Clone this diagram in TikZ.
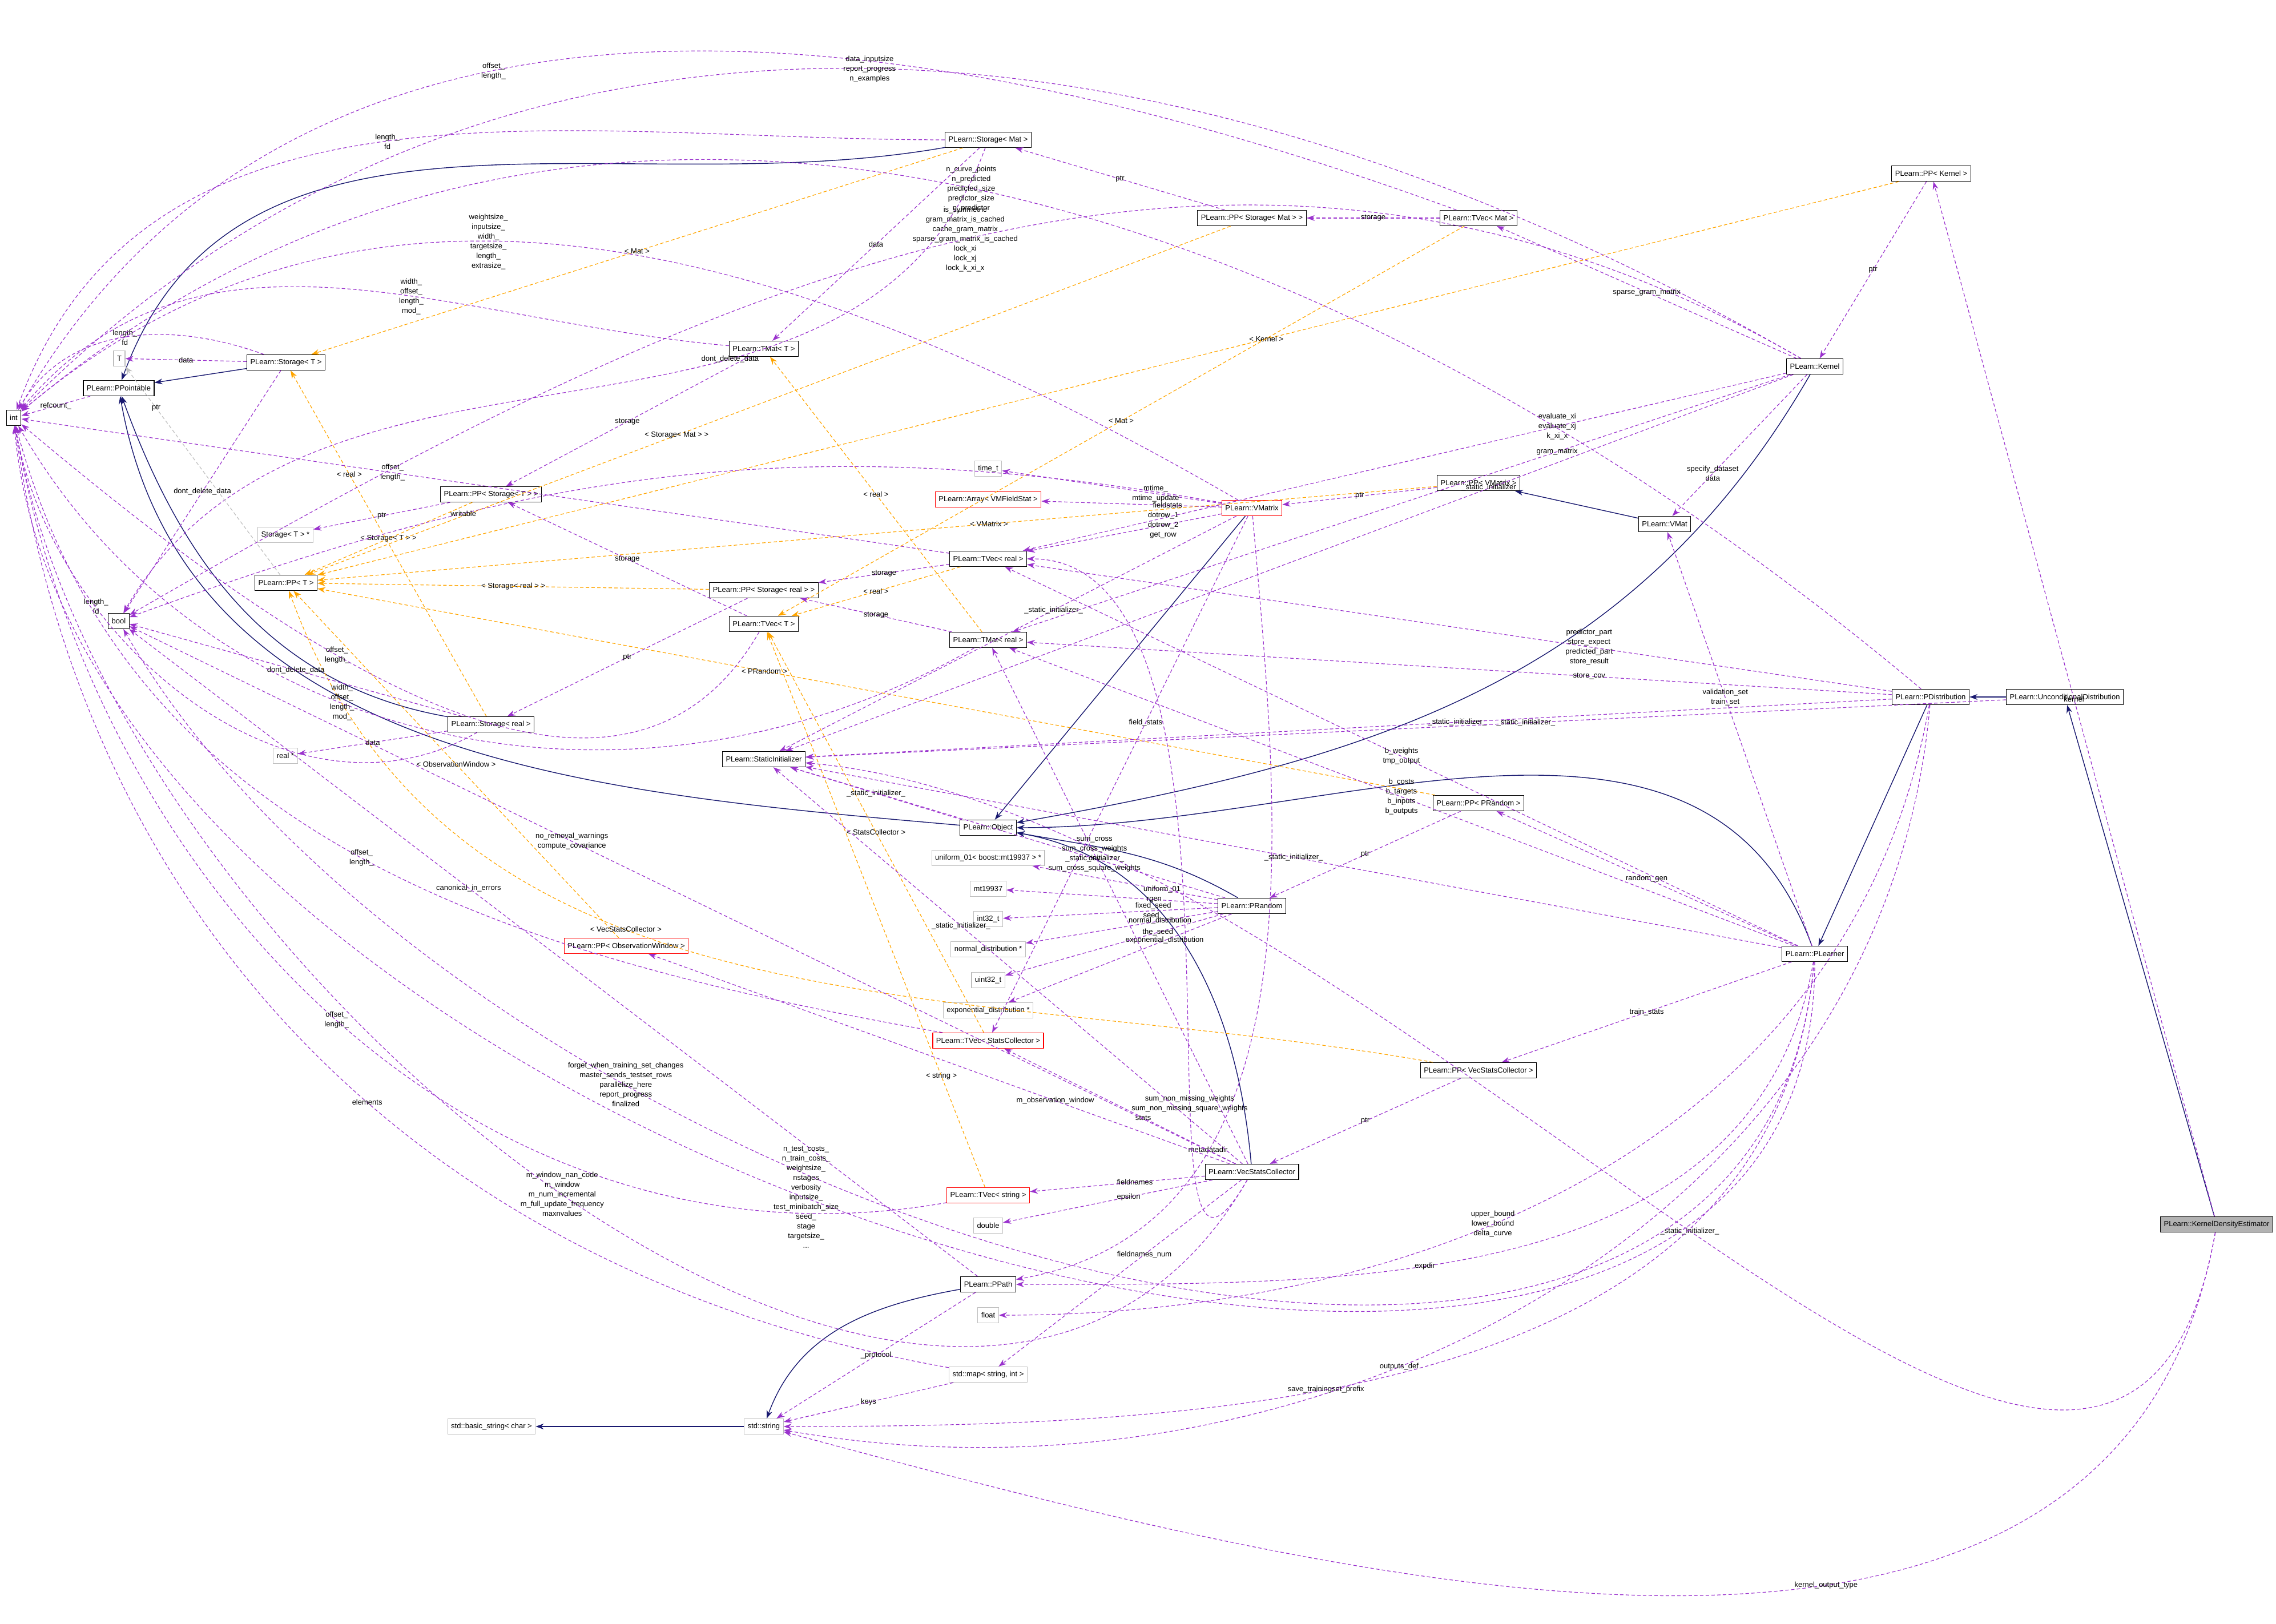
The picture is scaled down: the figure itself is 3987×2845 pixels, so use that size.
\documentclass[tikz,border=0pt]{standalone}
\usepackage{fontspec}
\setmainfont{Liberation Sans}
\usetikzlibrary{arrows.meta}
\definecolor{memb}{HTML}{9A32CD}
\definecolor{inh}{HTML}{191970}
\definecolor{tpl}{HTML}{FFA500}
\tikzset{
  cls/.style={draw=black, line width=0.12pt, fill=white, minimum height=2.7pt, inner xsep=0.6pt, inner ysep=0.3pt, font=\fontsize{1.3}{1.5}\selectfont},
  redcls/.style={cls, draw=red},
  extcls/.style={cls, draw=black!25},
  maincls/.style={cls, fill=black!30},
  member/.style={memb, dash pattern=on 0.6pt off 0.4pt, line width=0.12pt, -{Stealth[length=1.4pt,width=1pt]}},
  inherit/.style={inh, line width=0.14pt, -{Stealth[length=1.4pt,width=1pt]}},
  tmpl/.style={tpl, dash pattern=on 0.6pt off 0.4pt, line width=0.12pt, -{Stealth[length=1.4pt,width=1pt]}},
  lbl/.style={midway, black, align=center, font=\fontsize{1.3}{1.7}\selectfont, inner sep=0.2pt}
}
\begin{document}
\begin{tikzpicture}[x=0.1pt,y=-0.1pt]
   \useasboundingbox (0,0) rectangle (3987,2845);
   % classes, left part
   \node[cls] (int) at (24,732) {int};
   \node[cls] (ppointable) at (208,680) {PLearn::PPointable};
   \node[extcls] (T) at (209,628) {T};
   \node[cls] (storageT) at (501,635) {PLearn::Storage< T >};
   \node[cls] (storagemat) at (1731,245) {PLearn::Storage< Mat >};
   \node[cls] (tmatT) at (1338,611) {PLearn::TMat< T >};
   \node[cls] (ppstorageT) at (860,866) {PLearn::PP< Storage< T > >};
   \node[extcls] (storageTptr) at (500,937) {Storage< T > *};
   \node[cls] (ppT) at (501,1021) {PLearn::PP< T >};
   \node[cls] (bool) at (208,1088) {bool};
   \node[cls] (tvecreal) at (1731,979) {PLearn::TVec< real >};
   \node[cls] (ppstoragereal) at (1338,1034) {PLearn::PP< Storage< real > >};
   \node[cls] (tvecT) at (1338,1093) {PLearn::TVec< T >};
   \node[cls] (tmatreal) at (1731,1121) {PLearn::TMat< real >};
   \node[extcls] (timet) at (1731,821) {time\_t};
   \node[redcls] (arrayvmfs) at (1731,875) {PLearn::Array< VMFieldStat >};
   \node[cls] (storagereal) at (860,1269) {PLearn::Storage< real >};
   \node[extcls] (realptr) at (500,1324) {real *};
   \node[cls] (staticinit) at (1338,1330) {PLearn::StaticInitializer};
   % classes, right part
   \node[cls] (ppkernel) at (3383,304) {PLearn::PP< Kernel >};
   \node[cls] (ppstoragemat) at (2193,382) {PLearn::PP< Storage< Mat > >};
   \node[cls] (tvecmat) at (2590,382) {PLearn::TVec< Mat >};
   \node[cls] (kernel) at (3179,642) {PLearn::Kernel};
   \node[cls] (ppvmatrix) at (2590,846) {PLearn::PP< VMatrix >};
   \node[redcls] (vmatrix) at (2193,890) {PLearn::VMatrix};
   \node[cls] (vmat) at (2916,918) {PLearn::VMat};
   \node[cls] (pdistribution) at (3382,1221) {PLearn::PDistribution};
   \node[cls] (uncond) at (3617,1221) {PLearn::UnconditionalDistribution};
   % classes, lower part
   \node[cls] (object) at (1731,1450) {PLearn::Object};
   \node[extcls] (uniform) at (1731,1503) {uniform\_01< boost::mt19937 > *};
   \node[extcls] (mt) at (1731,1557) {mt19937};
   \node[extcls] (intt) at (1731,1610) {int32\_t};
   \node[extcls] (normdist) at (1731,1663) {normal\_distribution *};
   \node[extcls] (uintt) at (1731,1717) {uint32\_t};
   \node[extcls] (expdist) at (1731,1770) {exponential\_distribution *};
   \node[redcls] (tvecsc) at (1731,1823) {PLearn::TVec< StatsCollector >};
   \node[redcls] (ppobswin) at (1097,1657) {PLearn::PP< ObservationWindow >};
   \node[redcls] (tvecstring) at (1731,2094) {PLearn::TVec< string >};
   \node[extcls] (double) at (1731,2147) {double};
   \node[cls] (ppath) at (1731,2250) {PLearn::PPath};
   \node[extcls] (float) at (1731,2304) {float};
   \node[extcls] (stdmap) at (1731,2408) {std::map< string, int >};
   \node[extcls] (stdstring) at (1338,2499) {std::string};
   \node[extcls] (basicstring) at (861,2499) {std::basic\_string< char >};
   \node[cls] (pprandom) at (2590,1407) {PLearn::PP< PRandom >};
   \node[cls] (prandom) at (2193,1587) {PLearn::PRandom};
   \node[cls] (plearner) at (3179,1671) {PLearn::PLearner};
   \node[cls] (ppvsc) at (2590,1875) {PLearn::PP< VecStatsCollector >};
   \node[cls] (vsc) at (2193,2053) {PLearn::VecStatsCollector};
   \node[maincls] (kde) at (3883,2145) {PLearn::KernelDensityEstimator};

   % inheritance
   \draw[inherit] (storagemat) to[out=190,in=70] (ppointable);
   \draw[inherit] (storageT) -- (ppointable);
   \draw[inherit] (storagereal) to[out=170,in=-70] (ppointable);
   \draw[inherit] (object) to[out=175,in=-80] (ppointable);
   \draw[inherit] (kernel) to[out=-120,in=10] (object);
   \draw[inherit] (vmatrix) -- (object);
   \draw[inherit] (prandom) to[out=150,in=-10] (object);
   \draw[inherit] (vsc) to[out=95,in=-10] (object);
   \draw[inherit] (plearner) to[out=110,in=0] (object);
   \draw[inherit] (ppath) to[out=190,in=70] (stdstring);
   \draw[inherit] (stdstring) -- (basicstring);
   \draw[inherit] (vmat) -- (ppvmatrix);
   \draw[inherit] (pdistribution) -- (plearner);
   \draw[inherit] (uncond) -- (pdistribution);
   \draw[inherit] (kde) -- (uncond);

   % templates
   \draw[tmpl] (storagemat) -- node[lbl] {< Mat >} (storageT);
   \draw[tmpl] (storagereal) -- node[lbl, pos=0.7] {< real >} (storageT);
   \draw[tmpl] (tmatreal) -- node[lbl] {< real >} (tmatT);
   \draw[tmpl] (ppstorageT) -- node[lbl] {< Storage< T > >} (ppT);
   \draw[tmpl] (ppstoragereal) -- node[lbl] {< Storage< real > >} (ppT);
   \draw[tmpl] (ppstoragemat) -- node[lbl, pos=0.6] {< Storage< Mat > >} (ppT);
   \draw[tmpl] (ppvmatrix) -- node[lbl, pos=0.4] {< VMatrix >} (ppT);
   \draw[tmpl] (ppkernel) -- node[lbl, pos=0.4] {< Kernel >} (ppT);
   \draw[tmpl] (pprandom) -- node[lbl, pos=0.6] {< PRandom >} (ppT);
   \draw[tmpl] (ppobswin) -- node[lbl] {< ObservationWindow >} (ppT);
   \draw[tmpl] (ppvsc) to[out=170,in=-70] node[lbl, pos=0.6] {< VecStatsCollector >} (ppT);
   \draw[tmpl] (tvecreal) -- node[lbl] {< real >} (tvecT);
   \draw[tmpl] (tvecmat) -- node[lbl, pos=0.5] {< Mat >} (tvecT);
   \draw[tmpl] (tvecsc) -- node[lbl] {< StatsCollector >} (tvecT);
   \draw[tmpl] (tvecstring) -- node[lbl, pos=0.2] {< string >} (tvecT);

   % members of the storage and array classes
   \draw[member] (ppointable) -- node[lbl] {refcount\_} (int);
   \draw[member] (storageT) -- node[lbl] {data} (T);
   \draw[member] (storageT) to[out=160,in=60] node[lbl] {length\_\\fd} (int);
   \draw[member] (storageT) -- node[lbl] {dont\_delete\_data} (bool);
   \draw[member] (storagemat) to[out=180,in=70] node[lbl] {length\_\\fd} (int);
   \draw[member] (storagemat) -- node[lbl] {data} (tmatT);
   \draw[member] (storagemat) to[out=-110,in=60] node[lbl, pos=0.35] {dont\_delete\_data} (bool);
   \draw[member] (storagereal) -- node[lbl] {data} (realptr);
   \draw[member] (storagereal) -- node[lbl] {dont\_delete\_data} (bool);
   \draw[member] (storagereal) to[out=-150,in=-80] node[lbl, pos=0.7] {length\_\\fd} (int);
   \draw[member] (ppstorageT) -- node[lbl] {ptr} (storageTptr);
   \draw[member] (ppstoragemat) -- node[lbl] {ptr} (storagemat);
   \draw[member] (ppstoragereal) -- node[lbl] {ptr} (storagereal);
   \draw[member, draw=black!25] (ppT) -- node[lbl, pos=0.8] {ptr} (T);
   \draw[member] (tmatT) -- node[lbl] {storage} (ppstorageT);
   \draw[member] (tmatT) to[out=175,in=50] node[lbl, pos=0.4] {width\_\\offset\_\\length\_\\mod\_} (int);
   \draw[member] (tvecT) -- node[lbl] {storage} (ppstorageT);
   \draw[member] (tvecT) to[out=-120,in=-40] node[lbl, pos=0.6] {offset\_\\length\_} (int);
   \draw[member] (tvecreal) -- node[lbl] {storage} (ppstoragereal);
   \draw[member] (tvecreal) -- node[lbl, pos=0.6] {offset\_\\length\_} (int);
   \draw[member] (tmatreal) -- node[lbl] {storage} (ppstoragereal);
   \draw[member] (tmatreal) to[out=-150,in=-60] node[lbl, pos=0.6] {width\_\\offset\_\\length\_\\mod\_} (int);
   \draw[member] (tvecmat) -- node[lbl] {storage} (ppstoragemat);
   \draw[member] (tvecmat) to[out=160,in=60] node[lbl, pos=0.6] {offset\_\\length\_} (int);
   \draw[member] (tvecsc) to[out=170,in=-75] node[lbl, pos=0.5] {offset\_\\length\_} (int);
   \draw[member] (tvecstring) to[out=190,in=-80] node[lbl, pos=0.5] {offset\_\\length\_} (int);
   \draw[member] (stdmap) to[out=170,in=-82] node[lbl, pos=0.45] {elements} (int);
   \draw[member] (stdmap) -- node[lbl] {keys} (stdstring);
   \draw[member] (ppath) -- node[lbl] {\_protocol} (stdstring);
   \draw[member] (ppath) -- node[lbl, pos=0.6] {canonical\_in\_errors} (bool);
   \draw[member] (object) -- node[lbl] {\_static\_initializer\_} (staticinit);

   % members of the kernel and matrix classes
   \draw[member] (ppkernel) -- node[lbl] {ptr} (kernel);
   \draw[member] (kernel) to[out=150,in=45] node[lbl, pos=0.5] {data\_inputsize\\report\_progress\\n\_examples} (int);
   \draw[member] (kernel) to[out=150,in=30] node[lbl, pos=0.5] {is\_symmetric\\gram\_matrix\_is\_cached\\cache\_gram\_matrix\\sparse\_gram\_matrix\_is\_cached\\lock\_xi\\lock\_xj\\lock\_k\_xi\_x} (bool);
   \draw[member] (kernel) -- node[lbl] {sparse\_gram\_matrix} (tvecmat);
   \draw[member] (kernel) -- node[lbl, pos=0.3] {\_static\_initializer\_} (staticinit);
   \draw[member] (kernel) -- node[lbl, pos=0.3] {evaluate\_xi\\evaluate\_xj\\k\_xi\_x} (tvecreal);
   \draw[member] (kernel) -- node[lbl, pos=0.3] {gram\_matrix} (tmatreal);
   \draw[member] (kernel) -- node[lbl, pos=0.7] {specify\_dataset\\data} (vmat);
   \draw[member] (ppvmatrix) -- node[lbl] {ptr} (vmatrix);
   \draw[member] (vmatrix) to[out=150,in=40] node[lbl, pos=0.6] {weightsize\_\\inputsize\_\\width\_\\targetsize\_\\length\_\\extrasize\_} (int);
   \draw[member] (vmatrix) -- node[lbl, pos=0.3] {mtime\_\\mtime\_update} (timet);
   \draw[member] (vmatrix) -- node[lbl, pos=0.3] {fieldstats} (arrayvmfs);
   \draw[member] (vmatrix) -- node[lbl, pos=0.3] {dotrow\_1\\dotrow\_2\\get\_row} (tvecreal);
   \draw[member] (vmatrix) to[out=170,in=20] node[lbl, pos=0.7] {writable} (bool);
   \draw[member] (vmatrix) -- node[lbl, pos=0.4] {\_static\_initializer\_} (staticinit);
   \draw[member] (vmatrix) -- node[lbl, pos=0.4] {field\_stats} (tvecsc);
   \draw[member] (vmatrix) to[out=-85,in=10] node[lbl, pos=0.7] {metadatadir} (ppath);

   % members of the learner classes
   \draw[member] (pdistribution) to[out=140,in=40] node[lbl, pos=0.5] {n\_curve\_points\\n\_predicted\\predicted\_size\\predictor\_size\\n\_predictor} (int);
   \draw[member] (pdistribution) -- node[lbl, pos=0.35] {predictor\_part\\store\_expect\\predicted\_part\\store\_result} (tvecreal);
   \draw[member] (pdistribution) -- node[lbl, pos=0.35] {store\_cov} (tmatreal);
   \draw[member] (pdistribution) -- node[lbl, pos=0.4] {\_static\_initializer\_} (staticinit);
   \draw[member] (pdistribution) to[out=-100,in=0] node[lbl, pos=0.6] {upper\_bound\\lower\_bound\\delta\_curve} (float);
   \draw[member] (pdistribution) to[out=-95,in=-10] node[lbl, pos=0.6] {outputs\_def} (stdstring);
   \draw[member] (uncond) -- node[lbl, pos=0.4] {\_static\_initializer\_} (staticinit);
   \draw[member] (kde) -- node[lbl] {kernel} (ppkernel);
   \draw[member] (kde) to[out=-100,in=-5] node[lbl, pos=0.5] {\_static\_initializer\_} (staticinit);
   \draw[member] (kde) to[out=-100,in=-15] node[lbl, pos=0.4] {kernel\_output\_type} (stdstring);
   \draw[member] (plearner) -- node[lbl, pos=0.6] {validation\_set\\train\_set} (vmat);
   \draw[member] (plearner) -- node[lbl, pos=0.5] {b\_weights\\tmp\_output} (tvecreal);
   \draw[member] (plearner) -- node[lbl, pos=0.5] {b\_costs\\b\_targets\\b\_inputs\\b\_outputs} (tmatreal);
   \draw[member] (plearner) -- node[lbl] {random\_gen} (pprandom);
   \draw[member] (plearner) -- node[lbl] {train\_stats} (ppvsc);
   \draw[member] (plearner) -- node[lbl, pos=0.5] {\_static\_initializer\_} (staticinit);
   \draw[member] (plearner) to[out=-100,in=0] node[lbl, pos=0.6] {expdir} (ppath);
   \draw[member] (plearner) to[out=-95,in=0] node[lbl, pos=0.6] {save\_trainingset\_prefix} (stdstring);
   \draw[member] (plearner) to[out=-95,in=-60] node[lbl, pos=0.7] {forget\_when\_training\_set\_changes\\master\_sends\_testset\_rows\\parallelize\_here\\report\_progress\\finalized} (bool);
   \draw[member] (plearner) to[out=-90,in=-85] node[lbl, pos=0.55] {n\_test\_costs\_\\n\_train\_costs\_\\weightsize\_\\nstages\\verbosity\\inputsize\_\\test\_minibatch\_size\\seed\_\\stage\\targetsize\_\\...} (int);

   % members of the random and statistics classes
   \draw[member] (pprandom) -- node[lbl] {ptr} (prandom);
   \draw[member] (prandom) -- node[lbl, pos=0.3] {uniform\_01} (uniform);
   \draw[member] (prandom) -- node[lbl, pos=0.3] {rgen} (mt);
   \draw[member] (prandom) -- node[lbl, pos=0.3] {fixed\_seed\\seed\_} (intt);
   \draw[member] (prandom) -- node[lbl, pos=0.3] {normal\_distribution} (normdist);
   \draw[member] (prandom) -- node[lbl, pos=0.3] {the\_seed} (uintt);
   \draw[member] (prandom) -- node[lbl, pos=0.3] {exponential\_distribution} (expdist);
   \draw[member] (prandom) -- node[lbl, pos=0.3] {\_static\_initializer\_} (staticinit);
   \draw[member] (ppvsc) -- node[lbl] {ptr} (vsc);
   \draw[member] (vsc) -- node[lbl, pos=0.4] {stats} (tvecsc);
   \draw[member] (vsc) -- node[lbl, pos=0.4] {fieldnames} (tvecstring);
   \draw[member] (vsc) -- node[lbl, pos=0.4] {epsilon} (double);
   \draw[member] (vsc) -- node[lbl, pos=0.6] {sum\_cross\\sum\_cross\_weights\\cov\\sum\_cross\_square\_weights} (tmatreal);
   \draw[member] (vsc) to[out=-120,in=0] node[lbl, pos=0.35] {sum\_non\_missing\_weights\\sum\_non\_missing\_square\_weights} (tvecreal);
   \draw[member] (vsc) -- node[lbl, pos=0.4] {fieldnames\_num} (stdmap);
   \draw[member] (vsc) -- node[lbl, pos=0.3] {m\_observation\_window} (ppobswin);
   \draw[member] (vsc) to[out=-120,in=-80] node[lbl, pos=0.5] {m\_window\_nan\_code\\m\_window\\m\_num\_incremental\\m\_full\_update\_frequency\\maxnvalues} (int);
   \draw[member] (vsc) -- node[lbl, pos=0.6] {no\_removal\_warnings\\compute\_covariance} (bool);
   \draw[member] (vsc) -- node[lbl, pos=0.6] {\_static\_initializer\_} (staticinit);
\end{tikzpicture}
\end{document}
